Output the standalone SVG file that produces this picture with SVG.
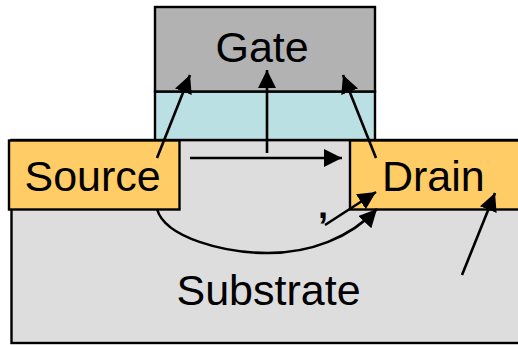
<svg xmlns="http://www.w3.org/2000/svg" width="518" height="345" viewBox="0 0 518 345">
<style>
.box{stroke:#000;stroke-width:2.4}
.t{font-family:"Liberation Sans",Arial,sans-serif;font-size:43px;fill:#000}
.c{stroke:#000;stroke-width:2.6;fill:none}
</style>
<defs>
<marker id="a" markerUnits="userSpaceOnUse" markerWidth="20" markerHeight="20" refX="18" refY="9" orient="auto"><path d="M0 0L18 9L0 18Z" fill="#000"/></marker>
</defs>
<rect width="518" height="345" fill="#fff"/>
<g id="substrate"><rect class="box" x="11.5" y="140" width="520" height="203" fill="#ddd"/><text class="t" x="176.500" y="305">Substrate</text></g>
<g id="oxide"><rect class="box" x="155" y="91.5" width="220" height="48.5" fill="#bbe0e3"/></g>
<g id="gate"><rect class="box" x="155" y="7" width="220" height="84.5" fill="#b2b2b2"/><text class="t" x="215.500" y="62">Gate</text></g>
<g id="source"><rect class="box" x="9" y="140.5" width="170.500" height="69" fill="#fc6"/><text class="t" x="24.500" y="191">Source</text></g>
<g id="drain"><rect class="box" x="350" y="140.500" width="175" height="69" fill="#fc6"/><text class="t" x="382" y="191">Drain</text></g>
<text class="t" x="318" y="218" style="font-weight:bold;font-size:36px">,</text>
<g id="connectors">
<path class="c" d="M157 158L190 75" marker-end="url(#a)"/>
<path class="c" d="M267 153V70" marker-end="url(#a)"/>
<path class="c" d="M376 158L343 75" marker-end="url(#a)"/>
<path class="c" d="M190 158H342" marker-end="url(#a)"/>
<path class="c" d="M325 225L376 192" marker-end="url(#a)"/>
<path class="c" d="M157 209C165 238 225 253 268 253C310 253 350 238 377 209" marker-end="url(#a)"/>
<path class="c" d="M462 275L495 193" marker-end="url(#a)"/>
</g>
</svg>
